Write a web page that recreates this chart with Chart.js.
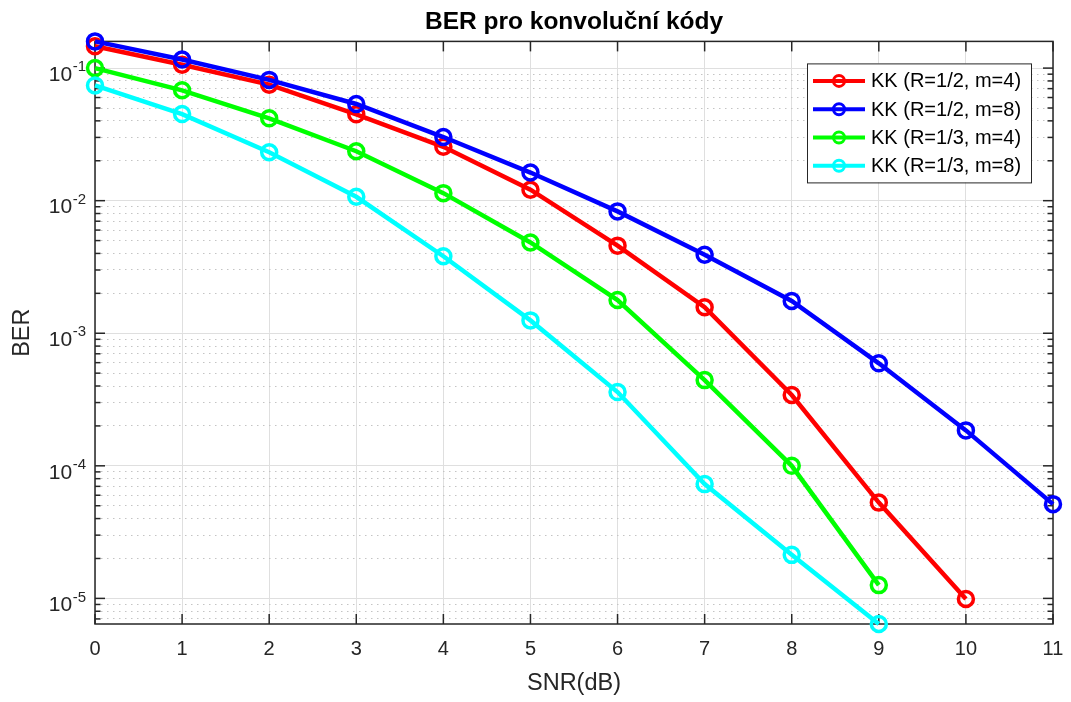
<!DOCTYPE html>
<html>
<head>
<meta charset="utf-8">
<title>BER pro konvoluční kódy</title>
<script src="https://cdn.jsdelivr.net/npm/chart.js@4/dist/chart.umd.min.js"></script>
<style>
  html, body { margin: 0; padding: 0; background: #fff; }
</style>
</head>
<body>
<canvas id="berChart" width="1071" height="702"></canvas>
<script>
// SNR in dB and measured BER for each convolutional code
const snrDb = [0, 1, 2, 3, 4, 5, 6, 7, 8, 9, 10, 11];
const berR12m4 = [0.146, 0.106, 0.075, 0.0448, 0.0255, 0.0121, 0.00458, 0.00157, 3.42e-4, 5.28e-5, 9.9e-6];
const berR12m8 = [0.159, 0.116, 0.0815, 0.0536, 0.0302, 0.0163, 0.0083, 0.00391, 0.00175, 5.93e-4, 1.85e-4, 5.14e-5];
const berR13m4 = [0.100, 0.068, 0.0418, 0.0236, 0.0114, 0.00484, 0.00178, 4.43e-4, 1.0e-4, 1.26e-5];
const berR13m8 = [0.074, 0.045, 0.0232, 0.0107, 0.00381, 0.00125, 3.6e-4, 7.28e-5, 2.13e-5, 6.41e-6];

const seriesLabels = ['KK (R=1/2, m=4)', 'KK (R=1/2, m=8)', 'KK (R=1/3, m=4)', 'KK (R=1/3, m=8)'];
const seriesColors = ['#ff0000', '#0000ff', '#00ff00', '#00ffff'];
const yDecades = [-1, -2, -3, -4, -5];

const FONT = '"Liberation Sans", Arial, Helvetica, sans-serif';
const AXIS_COLOR = '#262626';

const seriesValues = [berR12m4, berR12m8, berR13m4, berR13m8];
const allBer = [].concat(...seriesValues);
// tight y limits like "axis tight"
const yMin = Math.min(...allBer);
const yMax = Math.max(...allBer);

function isDecade(v) {
  const e = Math.log10(v);
  return Math.abs(e - Math.round(e)) < 1e-9;
}

// 1..9 x 10^k ticks inside the range
function logTicks(min, max) {
  const out = [];
  for (let e = Math.floor(Math.log10(min)); e <= Math.ceil(Math.log10(max)); e++) {
    for (let m = 1; m <= 9; m++) {
      const v = m * Math.pow(10, e);
      if (v >= min && v <= max) out.push({ value: v });
    }
  }
  return out;
}

function line(ctx, x1, y1, x2, y2) {
  ctx.beginPath();
  ctx.moveTo(x1, y1);
  ctx.lineTo(x2, y2);
  ctx.stroke();
}

// box, inward ticks and 10^k labels, legend inside the axes
const matlabAxes = {
  id: 'matlabAxes',
  beforeDatasetsDraw(chart) {
    const { ctx, chartArea: a, scales: { x, y } } = chart;
    ctx.save();
    ctx.strokeStyle = AXIS_COLOR;
    ctx.lineWidth = 1.5;
    ctx.strokeRect(a.left, a.top, a.right - a.left, a.bottom - a.top);

    x.ticks.forEach(t => {
      const px = x.getPixelForValue(t.value);
      line(ctx, px, a.bottom, px, a.bottom - 10);
      line(ctx, px, a.top, px, a.top + 10);
    });
    y.ticks.forEach(t => {
      const py = y.getPixelForValue(t.value);
      const len = isDecade(t.value) ? 10 : 5.5;
      line(ctx, a.left, py, a.left + len, py);
      line(ctx, a.right, py, a.right - len, py);
    });

    ctx.fillStyle = AXIS_COLOR;
    yDecades.forEach(e => {
      const py = y.getPixelForValue(Math.pow(10, e));
      const sup = String(e);
      const right = a.left - 9;
      ctx.font = '15px ' + FONT;
      const supW = ctx.measureText(sup).width;
      ctx.textAlign = 'left';
      ctx.textBaseline = 'middle';
      ctx.fillText(sup, right - supW, py - 1);
      ctx.font = '21px ' + FONT;
      ctx.textAlign = 'right';
      ctx.fillText('10', right - supW - 0.5, py + 7);
    });
    ctx.restore();
  },
  afterDraw(chart) {
    const { ctx, chartArea: a } = chart;
    const box = { left: a.right - 246, top: a.top + 22, width: 224, height: 119 };
    ctx.save();
    ctx.fillStyle = '#fff';
    ctx.fillRect(box.left, box.top, box.width, box.height);
    ctx.strokeStyle = AXIS_COLOR;
    ctx.lineWidth = 1;
    ctx.strokeRect(box.left + 0.5, box.top + 0.5, box.width, box.height);

    chart.data.datasets.forEach((ds, i) => {
      const cy = box.top + 17.5 + i * 28.3;
      const x1 = box.left + 6, x2 = box.left + 58;
      ctx.strokeStyle = ds.borderColor;
      ctx.lineWidth = 4;
      line(ctx, x1, cy, x2, cy);
      ctx.lineWidth = 3;
      ctx.beginPath();
      ctx.arc((x1 + x2) / 2, cy, 5.5, 0, Math.PI * 2);
      ctx.stroke();
      ctx.fillStyle = '#000';
      ctx.font = '20px ' + FONT;
      ctx.textAlign = 'left';
      ctx.textBaseline = 'middle';
      ctx.fillText(ds.label, box.left + 64, cy + 1);
    });
    ctx.restore();
  }
};

const datasets = seriesValues.map((vals, i) => ({
  label: seriesLabels[i],
  data: vals.map((v, k) => ({ x: snrDb[k], y: v })),
  borderColor: seriesColors[i],
  backgroundColor: seriesColors[i],
  borderWidth: 4.5,
  pointRadius: 7.5,
  pointBorderWidth: 3.5,
  pointBackgroundColor: 'rgba(0,0,0,0)',
  pointBorderColor: seriesColors[i],
  tension: 0,
  clip: false,
  order: seriesValues.length - i
}));

new Chart(document.getElementById('berChart'), {
  type: 'line',
  data: { datasets },
  options: {
    responsive: false,
    animation: false,
    layout: { padding: { left: 0, right: 18, top: 0, bottom: 4 } },
    plugins: {
      legend: { display: false },
      tooltip: { enabled: false },
      title: {
        display: true,
        text: 'BER pro konvoluční kódy',
        fullSize: false,
        color: '#000',
        font: { family: FONT, size: 24.5, weight: 'bold' },
        padding: { top: 8, bottom: 4 }
      }
    },
    scales: {
      x: {
        type: 'linear',
        min: 0,
        max: 11,
        afterFit: s => {
          s.height = 74;
          s.paddingLeft = 0;
          s.paddingRight = 0;
        },
        ticks: { stepSize: 1, color: AXIS_COLOR, font: { family: FONT, size: 20 }, padding: 13 },
        grid: { color: '#dfdfdf', lineWidth: 1, drawTicks: false },
        border: { display: false },
        title: {
          display: true,
          text: 'SNR(dB)',
          color: AXIS_COLOR,
          font: { family: FONT, size: 23.5 },
          padding: { top: 0, bottom: 0 }
        }
      },
      y: {
        type: 'logarithmic',
        min: yMin,
        max: yMax,
        afterBuildTicks: s => { s.ticks = logTicks(s.min, s.max); },
        afterFit: s => { s.width = 95; },
        ticks: { display: false },
        grid: {
          drawTicks: false,
          lineWidth: 1,
          color: c => (c.tick && !isDecade(c.tick.value)) ? '#c4c4c4' : '#dfdfdf'
        },
        border: {
          display: false,
          dash: c => (c.tick && !isDecade(c.tick.value)) ? [1.5, 4.5] : []
        },
        title: {
          display: true,
          text: 'BER',
          color: AXIS_COLOR,
          font: { family: FONT, size: 23.5 },
          padding: { top: 8, bottom: 0 }
        }
      }
    }
  },
  plugins: [matlabAxes]
});
</script>
</body>
</html>
